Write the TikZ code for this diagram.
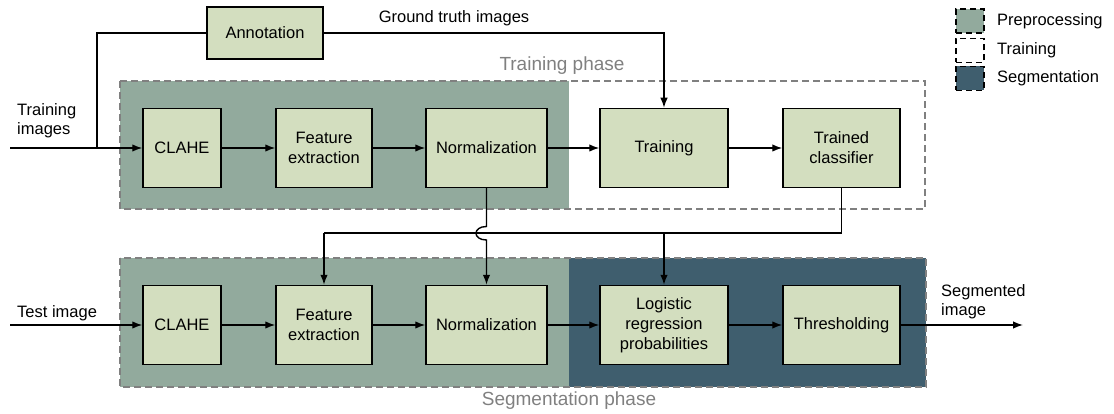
\documentclass[tikz,border=0pt]{standalone}
\usepackage{fontspec}
\setmainfont{Liberation Sans}
\usetikzlibrary{arrows.meta,calc}
\definecolor{prefill}{HTML}{92AA9D}
\definecolor{segfill}{HTML}{3F5E6E}
\definecolor{boxfill}{HTML}{D3DEBF}
\definecolor{framegray}{HTML}{808080}
\tikzset{
  blk/.style={draw=black, line width=1.5pt, fill=boxfill, align=center,
    inner sep=2pt, font=\fontsize{16.5}{20}\selectfont},
  link/.style={line width=1.4pt},
  flow/.style={line width=1.4pt, -{Latex[length=10pt,width=7.5pt]}},
  phaseframe/.style={draw=framegray, line width=1.5pt, dash pattern=on 7pt off 4pt},
  legendbox/.style={draw=black, line width=1.5pt, dash pattern=on 6pt off 4pt,
    minimum width=28pt, minimum height=24pt, inner sep=0pt},
  lbl/.style={font=\fontsize{16.5}{19}\selectfont, inner sep=0pt, align=left},
  phaselbl/.style={font=\fontsize{19}{22}\selectfont, text=framegray, inner sep=0pt}
}
\begin{document}
\begin{tikzpicture}[x=1pt,y=-1pt]
\useasboundingbox (0,0) rectangle (1114,414);

% phase backgrounds
\fill[prefill] (120,81) rectangle (569,209);
\fill[prefill] (120,258) rectangle (569,387);
\fill[segfill] (569,258) rectangle (926,387);
\draw[phaseframe] (120,81) rectangle (925,209);
\draw[phaseframe] (120,258) rectangle (926,387);
\node[phaselbl] (tphase) at (562,66) {Training phase};
\node[phaselbl] (sphase) at (569,401) {Segmentation phase};

% legend
\node[legendbox, fill=prefill] (lgpre) at (970,21) {};
\node[legendbox, fill=white] (lgtrain) at (970,50.5) {};
\node[legendbox, fill=segfill] (lgseg) at (970,78.5) {};
\node[lbl, anchor=west] (lgpretxt) at (997,21) {Preprocessing};
\node[lbl, anchor=west] (lgtraintxt) at (997,50.5) {Training};
\node[lbl, anchor=west] (lgsegtxt) at (997,78.5) {Segmentation};

% training row
\node[blk, minimum width=116pt, minimum height=52pt] (annot) at (265,33) {Annotation};
\node[blk, minimum width=78pt, minimum height=79pt] (clahe1) at (182,148) {CLAHE};
\node[blk, minimum width=96pt, minimum height=79pt] (fe1) at (324,148) {Feature\\extraction};
\node[blk, minimum width=121pt, minimum height=79pt] (norm1) at (486.5,148) {Normalization};
\node[blk, minimum width=128pt, minimum height=79pt] (train) at (664,148) {Training};
\node[blk, minimum width=117pt, minimum height=79pt] (tc) at (841.5,148) {Trained\\classifier};

% segmentation row
\node[blk, minimum width=78pt, minimum height=79pt] (clahe2) at (182,325) {CLAHE};
\node[blk, minimum width=96pt, minimum height=79pt] (fe2) at (324,325) {Feature\\extraction};
\node[blk, minimum width=121pt, minimum height=79pt] (norm2) at (486.5,325) {Normalization};
\node[blk, minimum width=128pt, minimum height=79pt] (lr) at (664,325) {Logistic\\regression\\probabilities};
\node[blk, minimum width=117pt, minimum height=79pt] (thr) at (841.5,325) {Thresholding};

% free labels
\node[lbl, anchor=south west] (trimg) at (17,138) {Training\\images};
\node[lbl, anchor=south west] (testimg) at (17,321) {Test image};
\node[lbl] (gt) at (454,18) {Ground truth images};
\node[lbl, anchor=south west] (segimg) at (941,319) {Segmented\\image};

% helper points
\coordinate (inTrain) at (10,148);
\coordinate (split) at (97,148);
\coordinate (inTest) at (10,325);
\coordinate (outSeg) at (1023,325);
\coordinate (busFe) at (324,233);
\coordinate (busLr) at (664,233);
\coordinate (hopTop) at (486.5,226.5);
\coordinate (hopBot) at (486.5,240);

% training connectors
\draw[link] (inTrain) -- (split);
\draw[flow] (split) -- (clahe1.west);
\draw[link] (annot.west) -| (split);
\draw[flow] (annot.east) -| (train.north);
\draw[flow] (clahe1) -- (fe1);
\draw[flow] (fe1) -- (norm1);
\draw[flow] (norm1) -- (train);
\draw[flow] (train) -- (tc);

% classifier and normalization parameters feed the segmentation row
\draw[link] (tc.south) |- (busFe);
\draw[flow] (busFe) -- (fe2.north);
\draw[flow] (busLr) -- (lr.north);
\draw[flow] (norm1.south) -- (hopTop)
  .. controls ($(hopTop)+(-14,0)$) and ($(hopBot)+(-14,0)$) .. (hopBot) -- (norm2.north);

% segmentation connectors
\draw[flow] (inTest) -- (clahe2.west);
\draw[flow] (clahe2) -- (fe2);
\draw[flow] (fe2) -- (norm2);
\draw[flow] (norm2) -- (lr);
\draw[flow] (lr) -- (thr);
\draw[flow] (thr) -- (outSeg);
\end{tikzpicture}
\end{document}
